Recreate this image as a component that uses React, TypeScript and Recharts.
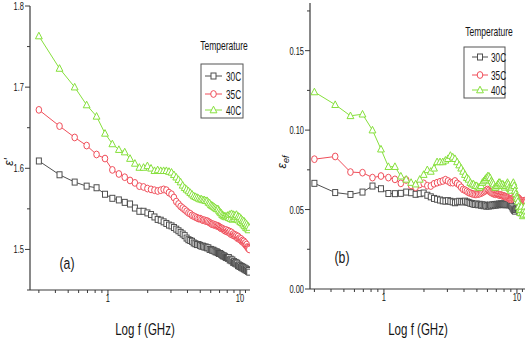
import { LineChart, Line, XAxis, YAxis, Legend } from "recharts";

const FONT = '"Liberation Sans", Arial, sans-serif';

// frequency (GHz)
const freq = [
  0.3, 0.43, 0.56, 0.69, 0.82, 0.95, 1.08, 1.21, 1.34, 1.47,
  1.6, 1.73, 1.86, 1.99, 2.12, 2.25, 2.38, 2.51, 2.64, 2.77,
  2.9, 3.03, 3.16, 3.29, 3.42, 3.55, 3.68, 3.81, 3.94, 4.07,
  4.2, 4.33, 4.46, 4.59, 4.72, 4.85, 4.98, 5.11, 5.24, 5.37,
  5.5, 5.63, 5.76, 5.89, 6.02, 6.15, 6.28, 6.41, 6.54, 6.67,
  6.8, 6.93, 7.06, 7.19, 7.32, 7.45, 7.58, 7.71, 7.84, 7.97,
  8.1, 8.23, 8.36, 8.49, 8.62, 8.75, 8.88, 9.01, 9.14, 9.27,
  9.4, 9.53, 9.66, 9.79, 9.92, 10.05, 10.18, 10.31, 10.44, 10.57,
  10.7, 10.83, 10.96, 11.09, 11.22, 11.35, 11.48, 11.61, 11.74,
];

// panel (a): real permittivity
const epsReal30 = [
  1.609, 1.592, 1.583, 1.578, 1.576, 1.568, 1.563, 1.561, 1.558, 1.556,
  1.551, 1.547, 1.547, 1.545, 1.543, 1.54, 1.537, 1.536, 1.534, 1.532,
  1.53, 1.529, 1.527, 1.525, 1.523, 1.521, 1.519, 1.517, 1.514, 1.512,
  1.511, 1.51, 1.508, 1.507, 1.506, 1.506, 1.505, 1.504, 1.504, 1.503,
  1.503, 1.502, 1.502, 1.5, 1.5, 1.499, 1.499, 1.498, 1.497, 1.497,
  1.496, 1.495, 1.495, 1.494, 1.493, 1.492, 1.492, 1.491, 1.49, 1.49,
  1.489, 1.49, 1.487, 1.488, 1.486, 1.487, 1.484, 1.485, 1.483, 1.484,
  1.482, 1.483, 1.48, 1.481, 1.479, 1.48, 1.478, 1.479, 1.477, 1.478,
  1.476, 1.477, 1.475, 1.476, 1.474, 1.475, 1.473, 1.474, 1.472,
];
const epsReal35 = [
  1.672, 1.652, 1.638, 1.628, 1.617, 1.612, 1.598, 1.593, 1.589, 1.585,
  1.582, 1.578, 1.577, 1.575, 1.574, 1.573, 1.572, 1.573, 1.574, 1.573,
  1.57, 1.568, 1.564, 1.559, 1.556, 1.553, 1.551, 1.549, 1.547, 1.545,
  1.544, 1.542, 1.541, 1.54, 1.539, 1.538, 1.538, 1.537, 1.536, 1.536,
  1.535, 1.535, 1.534, 1.533, 1.532, 1.531, 1.531, 1.53, 1.53, 1.529,
  1.529, 1.528, 1.527, 1.526, 1.526, 1.525, 1.524, 1.523, 1.524, 1.522,
  1.523, 1.521, 1.522, 1.519, 1.521, 1.518, 1.519, 1.517, 1.518, 1.516,
  1.517, 1.514, 1.516, 1.513, 1.514, 1.512, 1.513, 1.51, 1.511, 1.509,
  1.51, 1.507, 1.508, 1.505, 1.506, 1.503, 1.502, 1.501, 1.5,
];
const epsReal40 = [
  1.763, 1.723, 1.7, 1.678, 1.664, 1.643, 1.63, 1.623, 1.62, 1.612,
  1.606, 1.601, 1.601, 1.603, 1.6, 1.597, 1.598, 1.597, 1.597, 1.597,
  1.596, 1.595, 1.592, 1.589, 1.586, 1.583, 1.579, 1.576, 1.574, 1.572,
  1.57, 1.568, 1.566, 1.565, 1.564, 1.563, 1.562, 1.562, 1.561, 1.561,
  1.56, 1.56, 1.558, 1.557, 1.555, 1.554, 1.553, 1.552, 1.551, 1.55,
  1.55, 1.548, 1.546, 1.545, 1.543, 1.542, 1.541, 1.541, 1.54, 1.541,
  1.542, 1.539, 1.543, 1.538, 1.544, 1.537, 1.543, 1.538, 1.542, 1.54,
  1.543, 1.537, 1.541, 1.536, 1.54, 1.534, 1.538, 1.533, 1.536, 1.531,
  1.535, 1.529, 1.533, 1.527, 1.531, 1.526, 1.529, 1.524, 1.527,
];

// panel (b): effective loss
const epsEf30 = [
  0.0665, 0.0607, 0.0595, 0.061, 0.0648, 0.0631, 0.0601, 0.06, 0.0602, 0.061,
  0.0606, 0.0596, 0.06, 0.0604, 0.059, 0.058, 0.057, 0.0565, 0.056, 0.0555,
  0.0553, 0.0556, 0.0552, 0.0548, 0.0543, 0.0548, 0.0552, 0.055, 0.0548, 0.0553,
  0.0548, 0.0545, 0.054, 0.0538, 0.0534, 0.0532, 0.0535, 0.053, 0.0533, 0.0527,
  0.053, 0.0524, 0.0528, 0.0521, 0.0526, 0.0522, 0.0528, 0.0524, 0.053, 0.0526,
  0.0532, 0.0528, 0.0533, 0.053, 0.0535, 0.0531, 0.0536, 0.0532, 0.0535, 0.0531,
  0.0534, 0.053, 0.0533, 0.0531, 0.0534, 0.053, 0.0532, 0.0526, 0.052, 0.051,
  0.0502, 0.0495, 0.049, 0.05, 0.0508, 0.0512, 0.0505, 0.0498, 0.049, 0.0485,
  0.048, 0.0492, 0.0498, 0.0505, 0.05, 0.0494, 0.049, 0.0493, 0.0496,
];
const epsEf35 = [
  0.0817, 0.0834, 0.0736, 0.0732, 0.0701, 0.0711, 0.0701, 0.069, 0.0665, 0.0686,
  0.0652, 0.064, 0.0658, 0.0665, 0.065, 0.0648, 0.0662, 0.0669, 0.0675, 0.068,
  0.0688, 0.068, 0.067, 0.0669, 0.068, 0.0665, 0.0655, 0.064, 0.0627, 0.0622,
  0.0615, 0.0608, 0.0604, 0.06, 0.0597, 0.0595, 0.0596, 0.0598, 0.06, 0.0604,
  0.0608, 0.0613, 0.0618, 0.0622, 0.0626, 0.062, 0.0612, 0.0608, 0.0603, 0.06,
  0.0598, 0.0596, 0.0598, 0.0595, 0.0593, 0.059, 0.0592, 0.0588, 0.0585, 0.0586,
  0.0582, 0.058, 0.0578, 0.0575, 0.0572, 0.0568, 0.0565, 0.0563, 0.0566, 0.057,
  0.0574, 0.0576, 0.0573, 0.057, 0.0568, 0.0572, 0.0575, 0.057, 0.0565, 0.056,
  0.0556, 0.0553, 0.0548, 0.0544, 0.055, 0.0556, 0.0553, 0.0548, 0.0545,
];
const epsEf40 = [
  0.124, 0.116, 0.109, 0.11, 0.1, 0.088, 0.077, 0.077, 0.071, 0.069,
  0.067, 0.066, 0.069, 0.072, 0.075, 0.074, 0.076, 0.08, 0.08, 0.08,
  0.081, 0.082, 0.084, 0.083, 0.082, 0.08, 0.078, 0.076, 0.074, 0.072,
  0.07, 0.069, 0.067, 0.066, 0.066, 0.065, 0.065, 0.064, 0.064, 0.065,
  0.067, 0.068, 0.069, 0.07, 0.071, 0.071, 0.07, 0.068, 0.067, 0.066,
  0.064, 0.064, 0.065, 0.066, 0.067, 0.067, 0.066, 0.065, 0.066, 0.065,
  0.064, 0.065, 0.066, 0.067, 0.066, 0.064, 0.063, 0.062, 0.064, 0.066,
  0.067, 0.065, 0.062, 0.06, 0.058, 0.057, 0.055, 0.052, 0.05, 0.048,
  0.05, 0.052, 0.048, 0.046, 0.047, 0.05, 0.052, 0.049, 0.047,
];

const xTicks = [0.3, 0.4, 0.5, 0.6, 0.7, 0.8, 0.9, 1, 2, 3, 4, 5, 6, 7, 8, 9, 10, 11];
const xMajor = [1, 10];
const yTicksA = [1.45, 1.5, 1.55, 1.6, 1.65, 1.7, 1.75, 1.8];
const yMajorA = [1.5, 1.6, 1.7, 1.8];
const yTicksB = [0, 0.025, 0.05, 0.075, 0.1, 0.125, 0.15, 0.175];
const yMajorB = [0, 0.05, 0.1, 0.15];

const SERIES = [
  { key: "t30", name: "30C", color: "#4f4f4f", shape: "square" },
  { key: "t35", name: "35C", color: "#f04e5a", shape: "circle" },
  { key: "t40", name: "40C", color: "#86e03c", shape: "triangle" },
];

const dataA = freq.map((f, i) => ({ f, t30: epsReal30[i], t35: epsReal35[i], t40: epsReal40[i] }));
const dataB = freq.map((f, i) => ({ f, t30: epsEf30[i], t35: epsEf35[i], t40: epsEf40[i] }));

const AXIS = "#3a3a3a";
const SQUEEZE = 0.68;

// condensed text (the original uses a narrow face)
const NText = ({ x, y, size, anchor = "start", sx = SQUEEZE, children, ...rest }: any) => (
  <text
    transform={`translate(${x},${y}) scale(${sx},1)`}
    fontSize={size}
    textAnchor={anchor}
    fontFamily={FONT}
    fill="#151515"
    {...rest}
  >
    {children}
  </text>
);

const Marker = ({ cx, cy, shape, color }: any) => {
  if (cx == null || cy == null) return null;
  if (shape === "square")
    return <rect x={cx - 2.5} y={cy - 3} width={5} height={6} fill="#fff" stroke={color} strokeWidth={1} />;
  if (shape === "circle")
    return <ellipse cx={cx} cy={cy} rx={2.8} ry={3.4} fill="#fff" stroke={color} strokeWidth={1} />;
  return (
    <polygon
      points={`${cx},${cy - 3.8} ${cx - 3.4},${cy + 2.8} ${cx + 3.4},${cy + 2.8}`}
      fill="#fff"
      stroke={color}
      strokeWidth={1}
    />
  );
};

const XTick = ({ x, y, payload }: any) => {
  const major = xMajor.includes(payload.value);
  return (
    <g>
      <line x1={x} y1={y} x2={x} y2={y + (major ? 5 : 3)} stroke={AXIS} />
      {major && (
        <NText x={x} y={y + 12} size={11} anchor="middle">
          {payload.value}
        </NText>
      )}
    </g>
  );
};

const makeYTick = (majors: number[], fmt: (v: number) => string) => ({ x, y, payload }: any) => {
  const major = majors.some((m) => Math.abs(m - payload.value) < 1e-9);
  return (
    <g>
      <line x1={x} y1={y} x2={x - (major ? 5 : 3)} y2={y} stroke={AXIS} />
      {major && (
        <NText x={x - 6} y={y + 4} size={11} anchor="end">
          {fmt(payload.value)}
        </NText>
      )}
    </g>
  );
};

const YTickA = makeYTick(yMajorA, (v) => v.toFixed(1));
const YTickB = makeYTick(yMajorB, (v) => v.toFixed(2));

const LegendBox = ({ titleX, titleY, box, rows, sample, textX }: any) => (
  <svg width={62} height={box.y + box.h + 4} style={{ display: "block", overflow: "visible" }}>
    <NText x={titleX} y={titleY} size={12.5} anchor="middle">Temperature</NText>
    <rect x={box.x} y={box.y} width={box.w} height={box.h} fill="#fff" stroke="#555" strokeWidth={1} />
    {SERIES.map((s, i) => (
      <g key={s.key}>
        <line x1={sample[0]} y1={rows[i]} x2={sample[1]} y2={rows[i]} stroke={s.color} />
        <Marker cx={(sample[0] + sample[1]) / 2} cy={rows[i]} shape={s.shape} color={s.color} />
        <NText x={textX} y={rows[i] + 4.5} size={12.5} sx={0.66}>{s.name}</NText>
      </g>
    ))}
  </svg>
);

const Panel = ({ data, domainX, domainY, yTicks, YTick, yWidth, width, margin, legend, legendPos }: any) => (
  <LineChart width={width} height={341} data={data} margin={margin}>
    <XAxis
      dataKey="f"
      type="number"
      scale="log"
      domain={domainX}
      allowDataOverflow
      ticks={xTicks}
      tick={<XTick />}
      tickSize={0}
      tickMargin={0}
      tickLine={false}
      height={30}
      interval={0}
      axisLine={{ stroke: AXIS, strokeWidth: 1.2 }}
    />
    <XAxis xAxisId="top" orientation="top" type="number" scale="log" domain={domainX} allowDataOverflow height={0} tick={false} tickLine={false} axisLine={{ stroke: AXIS, strokeWidth: 1.2 }} />
    <YAxis
      type="number"
      domain={domainY}
      allowDataOverflow
      ticks={yTicks}
      tick={<YTick />}
      tickSize={0}
      tickMargin={0}
      tickLine={false}
      width={yWidth}
      interval={0}
      axisLine={{ stroke: AXIS, strokeWidth: 1.2 }}
    />
    <YAxis yAxisId="right" orientation="right" type="number" domain={domainY} allowDataOverflow width={0} tick={false} tickLine={false} axisLine={{ stroke: AXIS, strokeWidth: 1.2 }} />
    <Legend
      layout="horizontal"
      verticalAlign="middle"
      align="center"
      wrapperStyle={{ left: legendPos.left, top: legendPos.top, width: "auto" }}
      content={() => legend}
    />
    {SERIES.map((s) => (
      <Line
        key={s.key}
        dataKey={s.key}
        name={s.name}
        stroke={s.color}
        strokeWidth={1}
        isAnimationActive={false}
        dot={(p: any) => <Marker key={`${s.key}-${p.index}`} cx={p.cx} cy={p.cy} shape={s.shape} color={s.color} />}
      />
    ))}
  </LineChart>
);

const App = () => (
  <div style={{ position: "absolute", left: 0, top: 0, width: 529, height: 341, background: "#fff", overflow: "hidden" }}>
    <div style={{ position: "absolute", left: 0, top: 0 }}>
      <Panel
        data={dataA}
        width={265}
        domainX={[0.257, 11.9]}
        domainY={[1.45, 1.8]}
        yTicks={yTicksA}
        YTick={YTickA}
        yWidth={30}
        margin={{ top: 6, right: 15, bottom: 21, left: 0 }}
        legend={
          <LegendBox
            titleX={28}
            titleY={14}
            box={{ x: 5, y: 28, w: 42, h: 54 }}
            rows={[40, 58, 74]}
            sample={[9, 26]}
            textX={30}
          />
        }
        legendPos={{ left: 196, top: 36 }}
      />
    </div>
    <div style={{ position: "absolute", left: 265, top: 0 }}>
      <Panel
        data={dataB}
        width={264}
        domainX={[0.278, 11.5]}
        domainY={[0, 0.18]}
        yTicks={yTicksB}
        YTick={YTickB}
        yWidth={45}
        margin={{ top: 3, right: 4, bottom: 22, left: 0 }}
        legend={
          <LegendBox
            titleX={30}
            titleY={14}
            box={{ x: 5, y: 25, w: 41, h: 51 }}
            rows={[35, 53, 68]}
            sample={[13, 29]}
            textX={32}
          />
        }
        legendPos={{ left: 194, top: 22 }}
      />
    </div>
    <svg width={529} height={341} style={{ position: "absolute", left: 0, top: 0, pointerEvents: "none" }}>
      <NText x={145} y={335} size={17} anchor="middle">Log f (GHz)</NText>
      <NText x={418} y={335} size={17} anchor="middle">Log f (GHz)</NText>
      <NText x={67} y={269} size={17} anchor="middle" sx={0.72}>(a)</NText>
      <NText x={342} y={263} size={17} anchor="middle" sx={0.72}>(b)</NText>
      <text transform="translate(13,162) rotate(-90)" fontSize={12} textAnchor="middle" fontStyle="italic" fontFamily={FONT} fill="#151515">
        ε'
      </text>
      <text transform="translate(286,162) rotate(-90)" fontSize={12} textAnchor="middle" fontStyle="italic" fontFamily={FONT} fill="#151515">
        ε
        <tspan fontSize={9} dy={3}>ef</tspan>
      </text>
    </svg>
  </div>
);

export default App;
